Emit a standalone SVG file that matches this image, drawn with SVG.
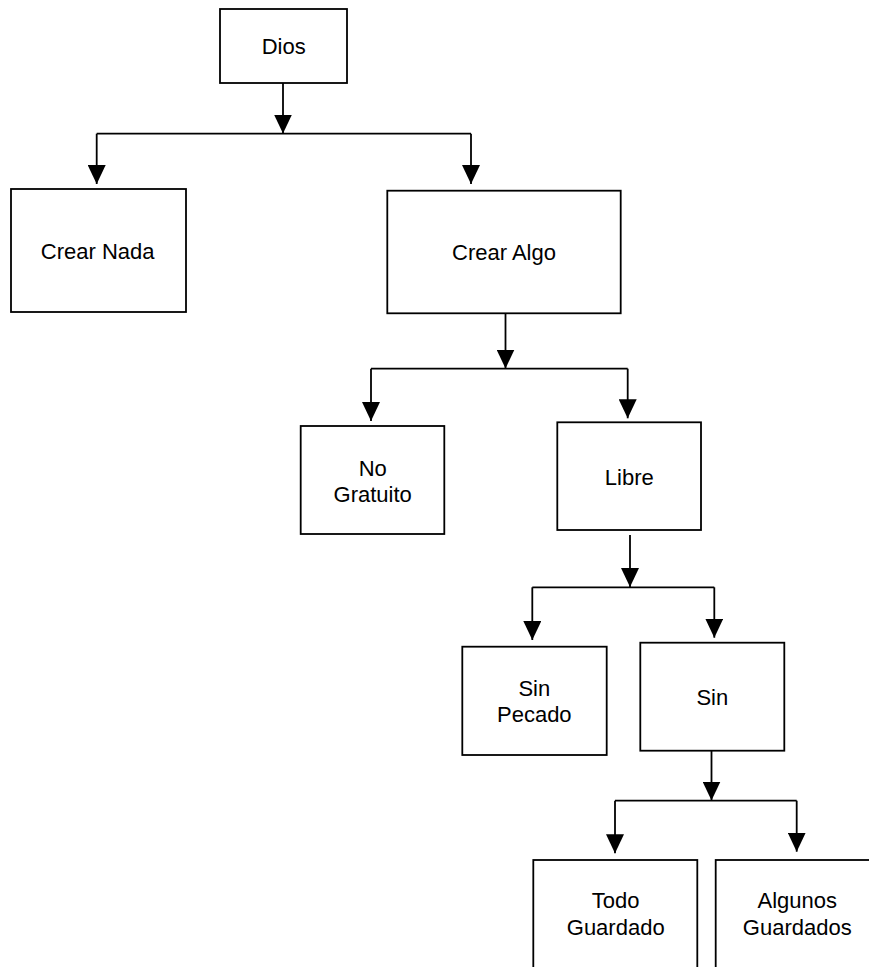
<svg xmlns="http://www.w3.org/2000/svg" width="869" height="967" viewBox="0 0 869 967">
<defs>
<marker id="arr" viewBox="0 0 19 18" refX="19" refY="9" markerWidth="19" markerHeight="18" markerUnits="userSpaceOnUse" orient="auto">
<path d="M0,0 L19,9 L0,18 z" fill="#000"/>
</marker>
<style>
.box{fill:#fff;stroke:#000;stroke-width:1.8}
.lbl{font-family:"Liberation Sans",Arial,sans-serif;font-size:22px;fill:#000;text-anchor:middle}
.ln{fill:none;stroke:#000;stroke-width:1.8}
.ar{fill:none;stroke:#000;stroke-width:1.8;marker-end:url(#arr)}
</style>
</defs>
<rect width="869" height="967" fill="#fff"/>
<g id="connectors">
<path class="ar" d="M283,83 V133.5"/>
<path class="ln" d="M96.7,133.7 H471"/>
<path class="ar" d="M96.7,133.7 V184"/>
<path class="ar" d="M471,133.7 V184"/>
<path class="ar" d="M505.5,313.3 V368.5"/>
<path class="ln" d="M371,368.7 H627.7"/>
<path class="ar" d="M371,368.7 V421"/>
<path class="ar" d="M627.7,368.7 V418.3"/>
<path class="ar" d="M630,535 V587"/>
<path class="ln" d="M532.3,587.3 H714.3"/>
<path class="ar" d="M532.3,587.3 V640"/>
<path class="ar" d="M714.3,587.3 V637.7"/>
<path class="ar" d="M711.5,750.7 V800.5"/>
<path class="ln" d="M615,800.7 H796.7"/>
<path class="ar" d="M615,800.7 V853.3"/>
<path class="ar" d="M796.7,800.7 V851.7"/>
</g>
<g id="dios"><rect class="box" x="220" y="9" width="127" height="74"/><text class="lbl" x="283.7" y="54">Dios</text></g>
<g id="crear-nada"><rect class="box" x="11" y="189" width="175" height="123"/><text class="lbl" x="97.7" y="259">Crear Nada</text></g>
<g id="crear-algo"><rect class="box" x="387.3" y="190.7" width="233.4" height="122.6"/><text class="lbl" x="504" y="260">Crear Algo</text></g>
<g id="no-gratuito"><rect class="box" x="300.7" y="426" width="143.6" height="108"/><text class="lbl" x="372.7" y="475.7">No</text><text class="lbl" x="372.7" y="501.7">Gratuito</text></g>
<g id="libre"><rect class="box" x="557.3" y="422.3" width="143.7" height="107.7"/><text class="lbl" x="629.3" y="485">Libre</text></g>
<g id="sin-pecado"><rect class="box" x="462.3" y="646.7" width="144.4" height="108.3"/><text class="lbl" x="534.3" y="695.7">Sin</text><text class="lbl" x="534.3" y="721.7">Pecado</text></g>
<g id="sin"><rect class="box" x="640.3" y="642.7" width="144" height="108"/><text class="lbl" x="712.3" y="705">Sin</text></g>
<g id="todo-guardado"><rect class="box" x="533.3" y="860" width="164" height="130"/><text class="lbl" x="615.7" y="908.3">Todo</text><text class="lbl" x="615.7" y="935">Guardado</text></g>
<g id="algunos-guardados"><rect class="box" x="715.7" y="860" width="170" height="130"/><text class="lbl" x="797.3" y="908">Algunos</text><text class="lbl" x="797.3" y="935">Guardados</text></g>
</svg>
